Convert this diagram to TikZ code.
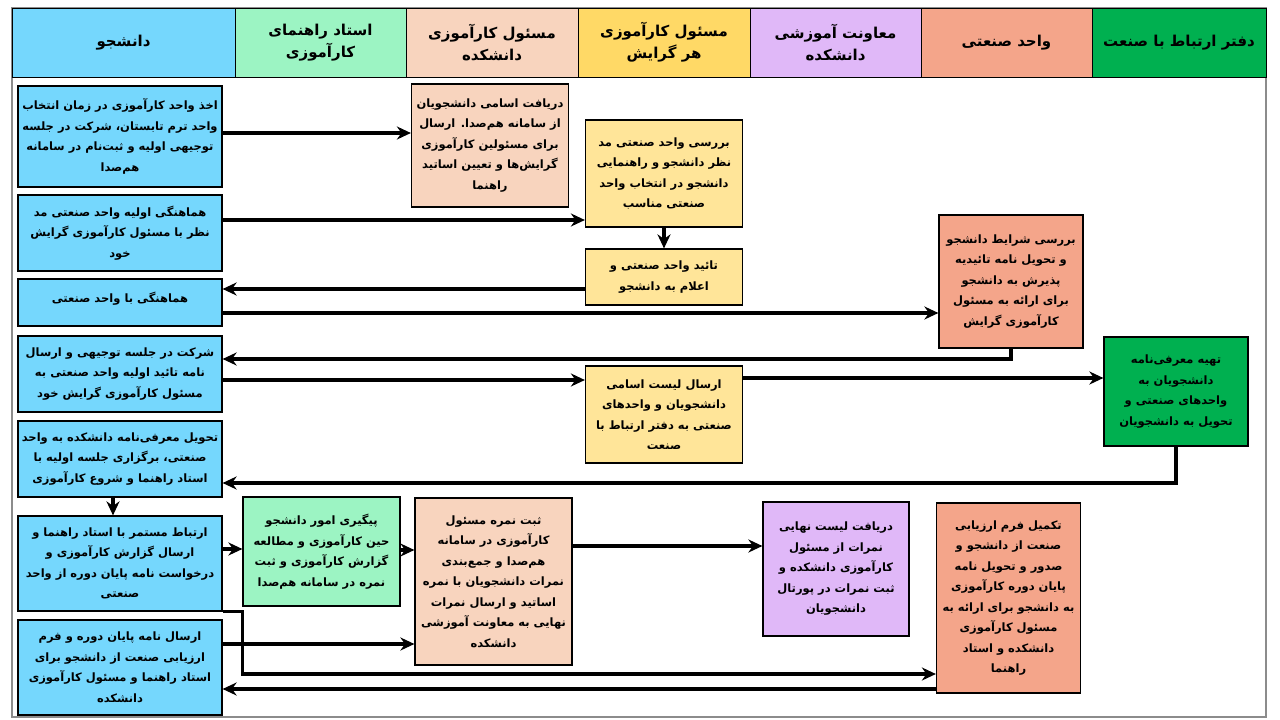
\documentclass[tikz,border=0pt]{standalone}
\usepackage{fontspec}
\newfontfamily\fafont[Script=Arabic]{DejaVu Sans}
\TeXXeTstate=1
\usetikzlibrary{arrows.meta}
\newcommand\rl[1]{\beginR#1\endR}

\definecolor{stublue}{HTML}{75D7FD}
\definecolor{advgreen}{HTML}{9CF4C3}
\definecolor{facpeach}{HTML}{F8D4BE}
\definecolor{grphead}{HTML}{FFD966}
\definecolor{grpyellow}{HTML}{FFE599}
\definecolor{deplilac}{HTML}{E0B8F8}
\definecolor{indsalmon}{HTML}{F4A58A}
\definecolor{offgreen}{HTML}{00B050}
\definecolor{framegray}{HTML}{8C8C8C}

\tikzset{
    lane/.style={draw=black, line width=1pt, align=center, inner sep=0pt,
        minimum height=69pt, font=\fafont\bfseries\fontsize{15}{22}\selectfont},
    task/.style={draw=black, line width=1.2pt, align=center, inner sep=0pt,
        font=\fafont\bfseries\fontsize{11.5}{20.5}\selectfont},
    stu/.style={task, fill=stublue, minimum width=204pt},
    adv/.style={task, fill=advgreen, minimum width=157pt},
    fac/.style={task, fill=facpeach, minimum width=157pt},
    grp/.style={task, fill=grpyellow, minimum width=157pt},
    dep/.style={task, fill=deplilac, minimum width=146pt},
    ind/.style={task, fill=indsalmon, minimum width=144pt},
    off/.style={task, fill=offgreen, minimum width=144pt},
    flow/.style={draw=black, line width=3.2pt, -{Stealth[length=14pt,width=13pt]}}
}

\begin{document}
\begin{tikzpicture}[x=1pt,y=-1pt]
    \useasboundingbox (0,0) rectangle (1280,720);
    \draw[framegray, line width=1.2pt] (12,8) rectangle (1266,717);

    % lanes
    \node[lane, fill=stublue, minimum width=223pt] (h1) at (123.5,42.5) {\rl{دانشجو}};
    \node[lane, fill=advgreen, minimum width=171pt] (h2) at (320.5,42.5) {\rl{استاد راهنمای}\\\rl{کارآموزی}};
    \node[lane, fill=facpeach, minimum width=172pt] (h3) at (492,42.5) {\rl{مسئول کارآموزی}\\\rl{دانشکده}};
    \node[lane, fill=grphead, minimum width=172pt] (h4) at (664,42.5) {\rl{مسئول کارآموزی}\\\rl{هر گرایش}};
    \node[lane, fill=deplilac, minimum width=171pt] (h5) at (835.5,42.5) {\rl{معاونت آموزشی}\\\rl{دانشکده}};
    \node[lane, fill=indsalmon, minimum width=171pt] (h6) at (1006.5,42.5) {\rl{واحد صنعتی}};
    \node[lane, fill=offgreen, minimum width=174pt] (h7) at (1179,42.5) {\rl{دفتر ارتباط با صنعت}};

    % student
    \node[stu, minimum height=101pt] (s1) at (120,136.5) {\rl{اخذ واحد کارآموزی در زمان انتخاب}\\\rl{واحد ترم تابستان، شرکت در جلسه}\\\rl{توجیهی اولیه و ثبت‌نام در سامانه}\\\rl{هم‌صدا}};
    \node[stu, minimum height=76pt] (s2) at (120,233) {\rl{هماهنگی اولیه واحد صنعتی مد}\\\rl{نظر با مسئول کارآموزی گرایش}\\\rl{خود}};
    \node[stu, minimum height=47pt, text depth=10pt] (s3) at (120,302.5) {\rl{هماهنگی با واحد صنعتی}};
    \node[stu, minimum height=76pt] (s4) at (120,374) {\rl{شرکت در جلسه توجیهی و ارسال}\\\rl{نامه تائید اولیه واحد صنعتی به}\\\rl{مسئول کارآموزی گرایش خود}};
    \node[stu, minimum height=76pt] (s5) at (120,459) {\rl{تحویل معرفی‌نامه  دانشکده به واحد}\\\rl{صنعتی، برگزاری جلسه اولیه با}\\\rl{استاد راهنما و شروع کارآموزی}};
    \node[stu, minimum height=95pt] (s6) at (120,563.5) {\rl{ارتباط مستمر با استاد راهنما و}\\\rl{ارسال گزارش کارآموزی و}\\\rl{درخواست نامه پایان دوره از واحد}\\\rl{صنعتی}};
    \node[stu, minimum height=95pt] (s7) at (120,667.5) {\rl{ارسال نامه پایان دوره و فرم}\\\rl{ارزیابی صنعت از دانشجو برای}\\\rl{استاد راهنما و مسئول کارآموزی}\\\rl{دانشکده}};

    % other lanes
    \node[fac, minimum height=123pt] (p1) at (490,145.5) {\rl{دریافت اسامی دانشجویان}\\\rl{از سامانه هم‌صدا. ارسال}\\\rl{برای مسئولین کارآموزی}\\\rl{گرایش‌ها و تعیین اساتید}\\\rl{راهنما}};
    \node[grp, minimum height=107pt] (y1) at (664,173.5) {\rl{بررسی واحد صنعتی مد}\\\rl{نظر دانشجو و راهنمایی}\\\rl{دانشجو در انتخاب واحد}\\\rl{صنعتی مناسب}};
    \node[grp, minimum height=56pt] (y2) at (664,277) {\rl{تائید واحد صنعتی و}\\\rl{اعلام به دانشجو}};
    \node[ind, minimum height=133pt] (r1) at (1011,281.5) {\rl{بررسی شرایط دانشجو}\\\rl{و تحویل نامه تائیدیه}\\\rl{پذیرش به دانشجو}\\\rl{برای ارائه به مسئول}\\\rl{کارآموزی گرایش}};
    \node[off, minimum height=109pt] (gr1) at (1176,391.5) {\rl{تهیه معرفی‌نامه}\\\rl{دانشجویان به}\\\rl{واحدهای صنعتی و}\\\rl{تحویل به دانشجویان}};
    \node[grp, minimum height=97pt] (y3) at (664,414.5) {\rl{ارسال لیست اسامی}\\\rl{دانشجویان و واحدهای}\\\rl{صنعتی به دفتر ارتباط با}\\\rl{صنعت}};
    \node[adv, minimum height=109pt] (g1) at (321.5,551.5) {\rl{پیگیری امور دانشجو}\\\rl{حین کارآموزی و مطالعه}\\\rl{گزارش کارآموزی و ثبت}\\\rl{نمره در سامانه هم‌صدا}};
    \node[fac, minimum height=167pt] (p2) at (493.5,581.5) {\rl{ثبت نمره مسئول}\\\rl{کارآموزی در سامانه}\\\rl{هم‌صدا و جمع‌بندی}\\\rl{نمرات دانشجویان با نمره}\\\rl{اساتید و ارسال نمرات}\\\rl{نهایی به معاونت آموزشی}\\\rl{دانشکده}};
    \node[dep, minimum height=134pt] (v1) at (836,569) {\rl{دریافت لیست نهایی}\\\rl{نمرات از مسئول}\\\rl{کارآموزی دانشکده و}\\\rl{ثبت نمرات در پورتال}\\\rl{دانشجویان}};
    \node[ind, minimum height=190pt] (r2) at (1008.5,598) {\rl{تکمیل فرم ارزیابی}\\\rl{صنعت از دانشجو و}\\\rl{صدور و تحویل نامه}\\\rl{پایان دوره کارآموزی}\\\rl{به دانشجو برای ارائه به}\\\rl{مسئول کارآموزی}\\\rl{دانشکده و استاد}\\\rl{راهنما}};

    % connectors
    \draw[flow] (s1.east |- 0,133) -- (p1.west |- 0,133);
    \draw[flow] (s2.east |- 0,220) -- (y1.west |- 0,220);
    \draw[flow] (y1) -- (y2);
    \draw[flow] (y2.west |- 0,289) -- (s3.east |- 0,289);
    \draw[flow] (s3.east |- 0,313) -- (r1.west |- 0,313);
    \draw[flow] (r1.south) |- (s4.east |- 0,359);
    \draw[flow] (s4.east |- 0,380) -- (y3.west |- 0,380);
    \draw[flow] (y3.east |- 0,378) -- (gr1.west |- 0,378);
    \draw[flow] (gr1.south) |- (s5.east |- 0,483);
    \draw[flow] ([xshift=-7pt]s5.south) -- ([xshift=-7pt]s6.north);
    \draw[flow] (s6.east |- 0,549) -- (g1.west |- 0,549);
    \draw[flow] (g1.east |- 0,550) -- (p2.west |- 0,550);
    \draw[flow] (p2.east |- 0,546) -- (v1.west |- 0,546);
    \draw[flow] (s6.south east) -- (g1.west |- s6.south) -- (g1.west |- 0,674) -- (r2.west |- 0,674);
    \draw[flow] (s7.east |- 0,644) -- (p2.west |- 0,644);
    \draw[flow] (r2.west |- 0,689) -- (s7.east |- 0,689);
\end{tikzpicture}
\end{document}
